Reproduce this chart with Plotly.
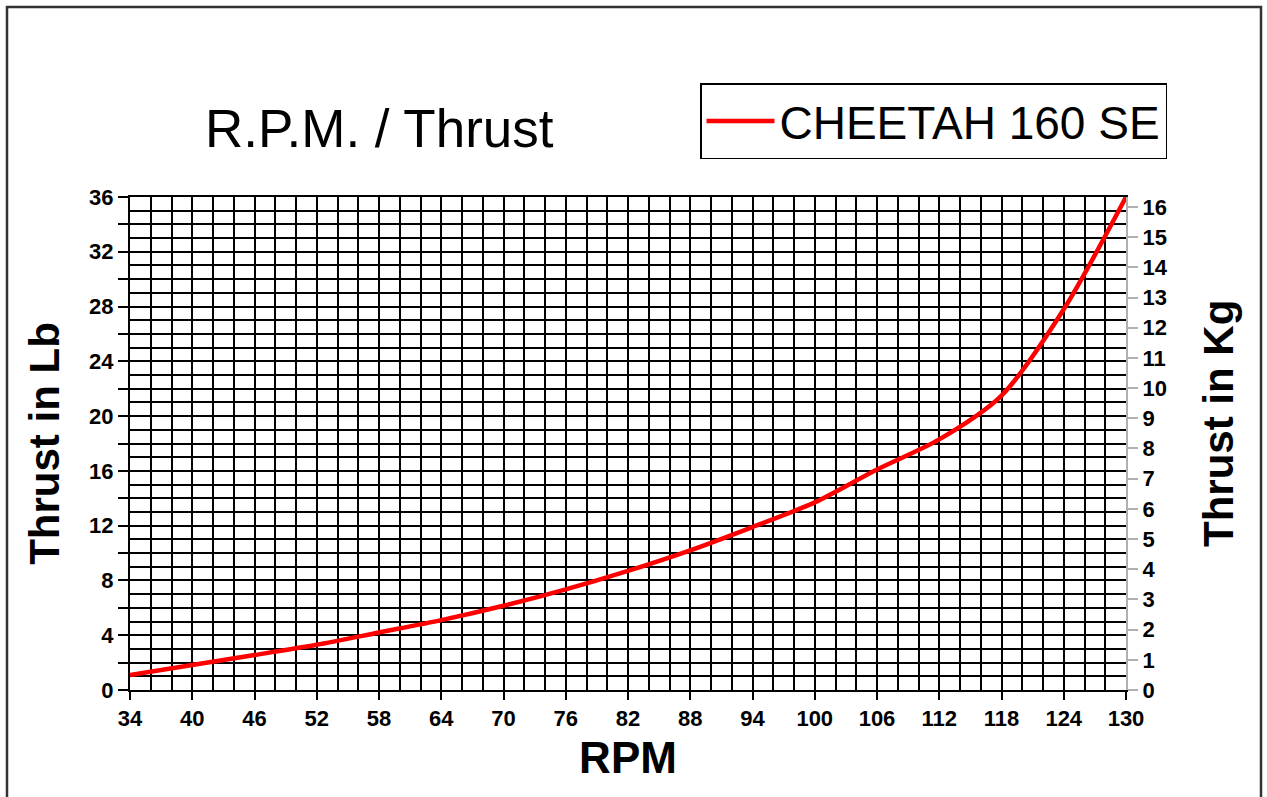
import plotly.graph_objects as go

# ---- data ----
rpm = [34, 40, 46, 52, 58, 64, 70, 76, 82, 88, 94, 100, 106, 112, 118, 124, 130]
thrust_lb = [1.1, 1.83, 2.55, 3.3, 4.2, 5.1, 6.15, 7.35, 8.7, 10.2, 11.9, 13.7, 16.1, 18.3, 21.5, 27.8, 36.0]
series_name = "CHEETAH 160 SE"
x_ticks = list(range(34, 131, 6))
lb_ticks = list(range(0, 37, 2))
lb_labels = [str(v) if v % 4 == 0 else "" for v in lb_ticks]
kg_ticks = list(range(0, 17))
LB_PER_KG = 2.20462

FONT = "Liberation Sans, Arial, sans-serif"

fig = go.Figure()
fig.add_trace(go.Scatter(
    x=rpm, y=thrust_lb, mode="lines", name=series_name,
    line=dict(color="#ff0000", width=4.5, shape="spline", smoothing=0.8),
))
# invisible trace to activate the right-hand (Kg) axis
fig.add_trace(go.Scatter(
    x=[rpm[0], rpm[-1]], y=[0, 36 / LB_PER_KG], yaxis="y2", mode="lines",
    line=dict(width=0), showlegend=False, hoverinfo="skip",
))

W, H = 1267, 797
L, R, T, B = 130, W - 1126, 197, H - 690
pw, ph = W - L - R, H - T - B

def px(x):
    return (x - L) / pw

def py(y):
    return (H - B - y) / ph

fig.update_layout(
    width=W, height=H,
    margin=dict(l=L, r=R, t=T, b=B),
    paper_bgcolor="white", plot_bgcolor="white",
    font=dict(family=FONT, color="black"),
    showlegend=True,
    legend=dict(
        x=px(700), y=py(83), xanchor="left", yanchor="top",
        bordercolor="black", borderwidth=1.5, bgcolor="white",
        font=dict(size=46, family=FONT, color="black"),
        itemwidth=68,
    ),
    xaxis=dict(
        range=[34, 130], tickvals=x_ticks, ticks="outside", ticklen=8, tickwidth=2,
        tickcolor="black", showline=True, linecolor="black", linewidth=2, mirror=True,
        showgrid=True, gridcolor="black", gridwidth=2, zeroline=False,
        minor=dict(dtick=2, showgrid=True, gridcolor="black", gridwidth=2, ticks=""),
        tickfont=dict(size=22, family=FONT, weight="bold"),
        title=dict(text="RPM", font=dict(size=44, family=FONT, weight="bold"), standoff=12),
        fixedrange=True,
    ),
    yaxis=dict(
        range=[0, 36], tickvals=lb_ticks, ticktext=lb_labels, ticks="outside", ticklen=10,
        tickwidth=2, tickcolor="black", showline=True, linecolor="black", linewidth=2,
        showgrid=True, gridcolor="black", gridwidth=2, zeroline=False,
        minor=dict(dtick=1, showgrid=True, gridcolor="black", gridwidth=2, ticks=""),
        tickfont=dict(size=22, family=FONT, weight="bold"),
        title=dict(text="Thrust in Lb", font=dict(size=42, family=FONT, weight="bold"), standoff=16),
        fixedrange=True,
    ),
    yaxis2=dict(
        overlaying="y", side="right", range=[0, 36 / LB_PER_KG], tickvals=kg_ticks,
        ticks="outside", ticklen=10, tickwidth=2, tickcolor="#b0b0b0",
        showline=True, linecolor="#b0b0b0", linewidth=2, showgrid=False, zeroline=False,
        tickfont=dict(size=22, family=FONT, weight="bold"),
        fixedrange=True,
    ),
    annotations=[
        dict(
            text="R.P.M. / Thrust", xref="paper", yref="paper", x=px(379), y=py(128),
            xanchor="center", yanchor="middle", showarrow=False,
            font=dict(size=53, family=FONT, color="black"),
        ),
        dict(
            text="Thrust in Kg", xref="paper", yref="paper", x=px(1218), y=py(424),
            xanchor="center", yanchor="middle", showarrow=False, textangle=-90,
            font=dict(size=42, family=FONT, color="black", weight="bold"),
        ),
    ],
    shapes=[dict(
        type="rect", xref="paper", yref="paper",
        x0=px(7), x1=px(1261), y0=py(805), y1=py(7),
        line=dict(color="#333333", width=2.5), fillcolor="rgba(0,0,0,0)", layer="above",
    )],
)

fig.write_html("out.html", config={"displayModeBar": False},
               post_script="document.body.style.margin='0';document.body.style.overflow='hidden';")
